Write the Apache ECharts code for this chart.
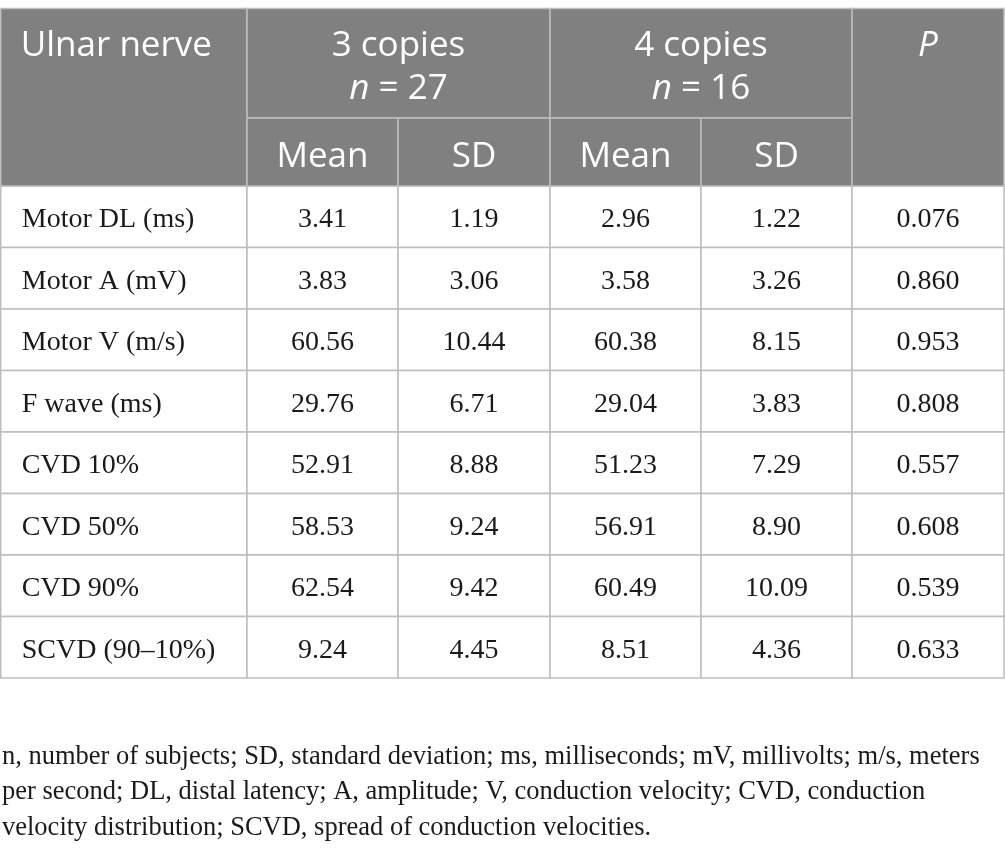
<!DOCTYPE html>
<html>
<head>
<meta charset="utf-8">
<script src="https://cdn.jsdelivr.net/npm/echarts@6/dist/echarts.min.js"></script>
<style>
html,body{margin:0;padding:0;background:#ffffff;}
#chart{width:1005px;height:859px;}
</style>
</head>
<body>
<div id="chart"></div>
<script>
// ---------------- data ----------------
const cornerLabel = 'Ulnar nerve';
const groupLabels = ['3 copies', '4 copies'];
const groupSizes = [27, 16];
const subHeaders = ['Mean', 'SD', 'Mean', 'SD'];
const pLabel = 'P';
const rowLabels = ['Motor DL (ms)', 'Motor A (mV)', 'Motor V (m/s)', 'F wave (ms)', 'CVD 10%', 'CVD 50%', 'CVD 90%', 'SCVD (90\u201310%)'];
const mean3 = ['3.41', '3.83', '60.56', '29.76', '52.91', '58.53', '62.54', '9.24'];
const sd3 = ['1.19', '3.06', '10.44', '6.71', '8.88', '9.24', '9.42', '4.45'];
const mean4 = ['2.96', '3.58', '60.38', '29.04', '51.23', '56.91', '60.49', '8.51'];
const sd4 = ['1.22', '3.26', '8.15', '3.83', '7.29', '8.90', '10.09', '4.36'];
const pValues = ['0.076', '0.860', '0.953', '0.808', '0.557', '0.608', '0.539', '0.633'];
const footnoteLines = [
  'n, number of subjects; SD, standard deviation; ms, milliseconds; mV, millivolts; m/s, meters',
  'per second; DL, distal latency; A, amplitude; V, conduction velocity; CVD, conduction',
  'velocity distribution; SCVD, spread of conduction velocities.'
];

// ---------------- layout / style ----------------
const colEdges = [0.75, 247, 398, 550, 701, 852, 1004];
const headTop = 8.5, headMid = 118, headBottom = 186, rowH = 61.5;
const HEAD_FILL = '#808080';
const LINE = '#bdbdbd';
const HEAD_FONT = '"Open Sans", "Noto Sans", sans-serif';
const BODY_FONT = '"Liberation Serif", "DejaVu Serif", serif';
const HEAD_SIZE = 35;
const BODY_SIZE = 28;

// ---------------- build cells ----------------
const cells = [];
// body
const bodyCols = [rowLabels, mean3, sd3, mean4, sd4, pValues];
for (let r = 0; r < rowLabels.length; r++) {
  const y0 = headBottom + r * rowH, y1 = y0 + rowH;
  for (let c = 0; c < bodyCols.length; c++) {
    cells.push({ kind: c === 0 ? 'bodyLabel' : 'body', text: bodyCols[c][r], x0: colEdges[c], x1: colEdges[c + 1], y0: y0, y1: y1 });
  }
}
// header
cells.push({ kind: 'corner', text: cornerLabel, x0: colEdges[0], x1: colEdges[1], y0: headTop, y1: headBottom });
for (let g = 0; g < groupLabels.length; g++) {
  cells.push({ kind: 'group', text: groupLabels[g] + '\n{i|n}{n| = ' + groupSizes[g] + '}', x0: colEdges[1 + 2 * g], x1: colEdges[3 + 2 * g], y0: headTop, y1: headMid });
}
for (let s = 0; s < subHeaders.length; s++) {
  cells.push({ kind: 'sub', text: subHeaders[s], x0: colEdges[1 + s], x1: colEdges[2 + s], y0: headMid, y1: headBottom });
}
cells.push({ kind: 'p', text: pLabel, x0: colEdges[5], x1: colEdges[6], y0: headTop, y1: headBottom });

function renderItem(params, api) {
  const cell = cells[params.dataIndex];
  const p0 = api.coord([api.value(0), api.value(2)]);
  const p1 = api.coord([api.value(1), api.value(3)]);
  const x = Math.min(p0[0], p1[0]), y = Math.min(p0[1], p1[1]);
  const w = Math.abs(p1[0] - p0[0]), h = Math.abs(p1[1] - p0[1]);
  const isHead = cell.kind !== 'body' && cell.kind !== 'bodyLabel';
  const children = [{
    type: 'rect',
    shape: { x: x, y: y, width: w, height: h },
    style: { fill: isHead ? HEAD_FILL : '#ffffff', stroke: LINE, lineWidth: 1.5 }
  }];
  const ts = {
    text: cell.text,
    fill: isHead ? '#ffffff' : '#1a1a1a',
    fontFamily: isHead ? HEAD_FONT : BODY_FONT,
    fontSize: isHead ? HEAD_SIZE : BODY_SIZE,
    align: 'center',
    verticalAlign: 'middle'
  };
  if (cell.kind === 'bodyLabel') {
    ts.align = 'left'; ts.x = x + 21; ts.y = y + h / 2 + 3;
  } else if (cell.kind === 'body') {
    ts.x = x + w / 2; ts.y = y + h / 2 + 3;
  } else if (cell.kind === 'corner') {
    ts.align = 'left'; ts.x = x + 20; ts.y = y + 38;
  } else if (cell.kind === 'p') {
    ts.fontStyle = 'italic'; ts.x = x + w / 2; ts.y = y + 38;
  } else if (cell.kind === 'group') {
    ts.x = x + w / 2; ts.y = y + h / 2 + 4.5; ts.lineHeight = 43;
    ts.rich = {
      i: { fontStyle: 'italic', fontFamily: HEAD_FONT, fontSize: HEAD_SIZE, fill: '#ffffff', lineHeight: 43 },
      n: { fontFamily: HEAD_FONT, fontSize: HEAD_SIZE, fill: '#ffffff', lineHeight: 43 }
    };
  } else if (cell.kind === 'sub') {
    ts.x = x + w / 2; ts.y = y + h / 2 + 4.7;
  }
  children.push({ type: 'text', style: ts });
  return { type: 'group', children: children };
}

const chart = echarts.init(document.getElementById('chart'), null, { renderer: 'canvas' });
chart.setOption({
  animation: false,
  backgroundColor: '#ffffff',
  grid: { left: 0, right: 0, top: 0, bottom: 0 },
  xAxis: { type: 'value', min: 0, max: 1005, show: false },
  yAxis: { type: 'value', min: 0, max: 859, inverse: true, show: false },
  graphic: [{
    type: 'text',
    left: 2,
    top: 739,
    style: {
      text: footnoteLines.join('\n'),
      fill: '#1a1a1a',
      fontFamily: BODY_FONT,
      fontSize: 26.5,
      lineHeight: 35.5
    }
  }],
  series: [{
    type: 'custom',
    renderItem: renderItem,
    coordinateSystem: 'cartesian2d',
    clip: false,
    data: cells.map(function (c) { return [c.x0, c.x1, c.y0, c.y1]; }),
    encode: { x: [0, 1], y: [2, 3] }
  }]
});
</script>
</body>
</html>
